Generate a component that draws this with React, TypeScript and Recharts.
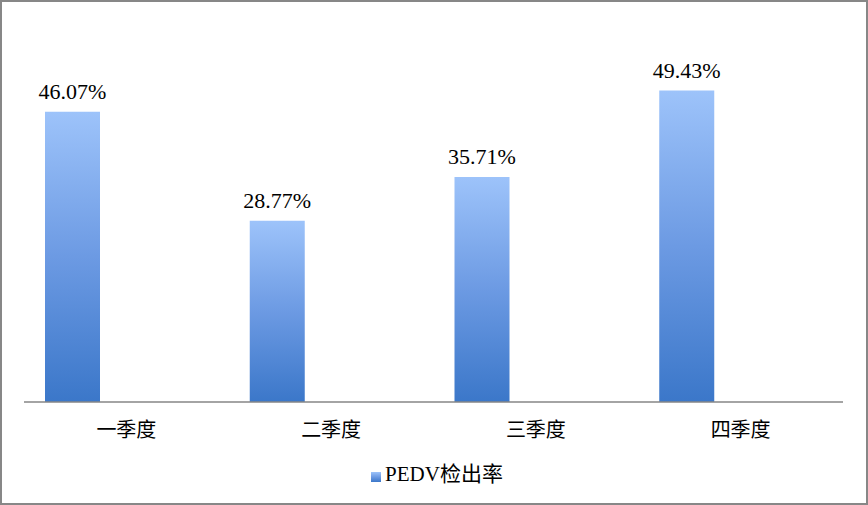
import { BarChart, Bar, XAxis, YAxis, Legend, LabelList } from 'recharts'

const quarters = ['一季度', '二季度', '三季度', '四季度']
const pedvRate = [46.07, 28.77, 35.71, 49.43]
const seriesName = 'PEDV检出率'

const chartData = quarters.map((q, i) => ({
  quarter: q,
  rate: pedvRate[i],
  blank: null,
}))

const serif = "'Liberation Serif', 'Times New Roman', 'Noto Sans CJK SC', serif"
const cjk = "'Liberation Serif', 'Noto Sans CJK SC', sans-serif"

export default function App() {
  return (
    <div
      style={{
        width: 868,
        height: 505,
        border: '2px solid #878787',
        boxSizing: 'border-box',
        background: '#fff',
        position: 'relative',
      }}
    >
      <style>{'body{margin:0}'}</style>
      <BarChart
        width={864}
        height={501}
        data={chartData}
        margin={{ top: 22, right: 23, left: 22, bottom: 71 }}
        barSize={55}
        barGap={53}
        barCategoryGap={21}
      >
        <defs>
          <linearGradient id="pedvFill" x1="0" y1="0" x2="0" y2="1">
            <stop offset="0%" stopColor="#9dc3fa" />
            <stop offset="50%" stopColor="#6c9ae3" />
            <stop offset="100%" stopColor="#3b77c9" />
          </linearGradient>
        </defs>
        <XAxis
          dataKey="quarter"
          height={30}
          tickLine={false}
          tickMargin={15}
          axisLine={{ stroke: '#868686', strokeWidth: 1.5 }}
          tick={{ fontSize: 20, fill: '#000', fontFamily: cjk }}
        />
        <YAxis hide domain={[0, 60]} />
        <Legend
          verticalAlign="middle"
          align="center"
          iconType="square"
          iconSize={10}
          wrapperStyle={{ top: 455, left: 8, width: 864 }}
          formatter={(value) => (
            <span style={{ color: '#000', fontSize: 21, fontFamily: cjk }}>{value}</span>
          )}
        />
        <Bar dataKey="rate" name={seriesName} fill="url(#pedvFill)" isAnimationActive={false}>
          <LabelList
            dataKey="rate"
            position="top"
            offset={13}
            formatter={(v: number) => `${v.toFixed(2)}%`}
            style={{ fontSize: 22, fill: '#000', fontFamily: serif }}
          />
        </Bar>
        <Bar dataKey="blank" legendType="none" fill="none" isAnimationActive={false} />
      </BarChart>
    </div>
  )
}
